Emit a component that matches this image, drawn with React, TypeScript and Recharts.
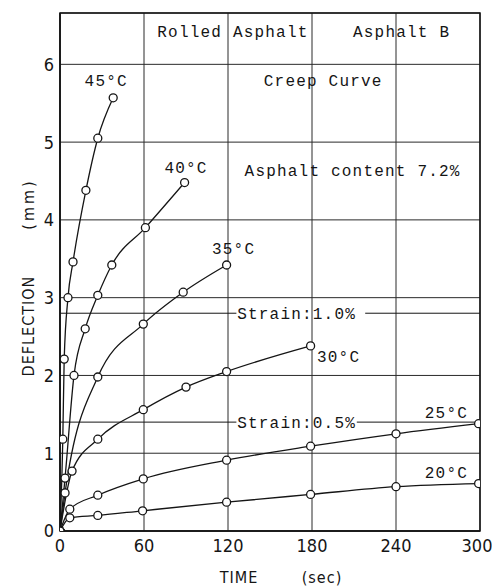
import {
  LineChart,
  Line,
  XAxis,
  YAxis,
  CartesianGrid,
  ReferenceLine,
  ReferenceArea,
  ReferenceDot,
} from "recharts";

const W = 492;
const H = 587;
const Y_MAX = 6.66;

const xTicks = [0, 60, 120, 180, 240, 300];
const yTicks = [0, 1, 2, 3, 4, 5, 6];

// creep curves, time (sec) vs deflection (mm)
const time45 = [0, 2, 3, 5.7, 9.3, 18.5, 27, 38];
const defl45 = [0, 1.18, 2.21, 3.0, 3.46, 4.38, 5.05, 5.57];
const time40 = [0, 3.6, 10, 18, 27, 37, 61, 89];
const defl40 = [0, 0.68, 2.0, 2.6, 3.03, 3.42, 3.9, 4.48];
const time35 = [0, 3.6, 27, 59.5, 88, 119];
const defl35 = [0, 0.49, 1.98, 2.66, 3.07, 3.42];
const time30 = [0, 8.6, 27, 59.5, 90, 119, 179];
const defl30 = [0, 0.77, 1.18, 1.56, 1.85, 2.05, 2.38];
const time25 = [0, 7, 27, 59.5, 119, 179, 240, 299];
const defl25 = [0, 0.28, 0.46, 0.67, 0.91, 1.09, 1.25, 1.38];
const time20 = [0, 7, 27, 59, 119, 179, 240, 299];
const defl20 = [0, 0.17, 0.2, 0.26, 0.37, 0.47, 0.57, 0.61];

const strainLevels = [2.8, 1.4];

const notes = [
  { text: "Rolled Asphalt", x: 123.5, y: 6.42 },
  { text: "Asphalt B", x: 244, y: 6.42 },
  { text: "Creep Curve", x: 188, y: 5.8 },
  { text: "Asphalt content 7.2%", x: 209, y: 4.64 },
  { text: "Strain:1.0%", x: 169, y: 2.8 },
  { text: "Strain:0.5%", x: 169, y: 1.4 },
  { text: "45°C", x: 33, y: 5.8 },
  { text: "40°C", x: 90, y: 4.68 },
  { text: "35°C", x: 124, y: 3.64 },
  { text: "30°C", x: 199, y: 2.24 },
  { text: "25°C", x: 276, y: 1.53 },
  { text: "20°C", x: 276, y: 0.76 },
];

const toPoints = (t: number[], d: number[]) => t.map((v, i) => ({ t: v, d: d[i] }));

const series = [
  toPoints(time45, defl45),
  toPoints(time40, defl40),
  toPoints(time35, defl35),
  toPoints(time30, defl30),
  toPoints(time25, defl25),
  toPoints(time20, defl20),
];

const INK = "#151515";
const MONO = "'Liberation Mono', 'DejaVu Sans Mono', monospace";
const SANS = "'DejaVu Sans Condensed', 'DejaVu Sans', sans-serif";

const XTick = (props: any) => {
  const { x, y, payload } = props;
  const dx = payload.value === 300 ? -3 : 0;
  return (
    <text
      x={x + dx}
      y={y + 15}
      textAnchor="middle"
      fill={INK}
      fontFamily={SANS}
      fontStretch="condensed"
      fontSize={18}
    >
      {payload.value}
    </text>
  );
};

const XTitle = (props: any) => {
  const vb = props.viewBox || { x: 60, y: 531, width: 420, height: 56 };
  const y = vb.y + 52;
  return (
    <g fill={INK} fontFamily={SANS} fontStretch="condensed" fontSize={16} letterSpacing={1}>
      <text x={vb.x + 179} y={y} textAnchor="middle">TIME</text>
      <text x={vb.x + 262} y={y} textAnchor="middle">(sec)</text>
    </g>
  );
};

const YTitle = (props: any) => {
  const vb = props.viewBox || { x: 0, y: 13, width: 60, height: 518 };
  const cx = vb.x + 34;
  const a = vb.y + 313;
  const b = vb.y + 191;
  return (
    <g fill={INK} fontFamily={SANS} fontStretch="condensed" fontSize={16} letterSpacing={1}>
      <text x={cx} y={a} textAnchor="middle" transform={`rotate(-90 ${cx} ${a})`}>
        DEFLECTION
      </text>
      <text x={cx} y={b} textAnchor="middle" transform={`rotate(-90 ${cx} ${b})`} letterSpacing={3}>
        (mm)
      </text>
    </g>
  );
};

export default function App() {
  return (
    <div style={{ position: "absolute", left: 0, top: 0, width: W, height: H, background: "#fff" }}>
      <LineChart width={W} height={H} margin={{ top: 13, right: 12, bottom: 0, left: 0 }}>
        <CartesianGrid stroke="#2a2a2a" strokeWidth={1} fill="none" />
        <XAxis
          type="number"
          dataKey="t"
          domain={[0, 300]}
          ticks={xTicks}
          height={56}
          tickSize={0}
          tickMargin={6}
          axisLine={{ stroke: INK, strokeWidth: 1.5 }}
          tick={<XTick />}
          label={<XTitle />}
          allowDataOverflow
        />
        <YAxis
          type="number"
          domain={[0, Y_MAX]}
          ticks={yTicks}
          width={60}
          tickSize={0}
          tickMargin={6}
          axisLine={{ stroke: INK, strokeWidth: 1.5 }}
          tick={{ fill: INK, fontSize: 18, fontFamily: SANS, fontStretch: "condensed" } as any}
          label={<YTitle />}
          allowDataOverflow
        />
        <ReferenceArea
          x1={0}
          x2={300}
          y1={0}
          y2={Y_MAX}
          fill="none"
          fillOpacity={0}
          stroke={INK}
          strokeWidth={1.5}
        />
        {strainLevels.map((s) => (
          <ReferenceLine
            key={`a${s}`}
            segment={[{ x: 0, y: s }, { x: 126, y: s }]}
            stroke={INK}
            strokeWidth={1}
          />
        ))}
        {strainLevels.map((s) => (
          <ReferenceLine
            key={`b${s}`}
            segment={[{ x: s > 2 ? 218 : 212, y: s }, { x: 300, y: s }]}
            stroke={INK}
            strokeWidth={1}
          />
        ))}
        {series.map((pts, i) => (
          <Line
            key={i}
            data={pts}
            dataKey="d"
            type="monotone"
            stroke={INK}
            strokeWidth={1.3}
            dot={{ r: 4, stroke: INK, strokeWidth: 1.3, fill: "#fff" }}
            isAnimationActive={false}
          />
        ))}
        {notes.map((n) => (
          <ReferenceDot
            key={n.text}
            x={n.x}
            y={n.y}
            r={0}
            fill="none"
            stroke="none"
            label={
              {
                value: n.text,
                position: "center",
                fill: INK,
                fontSize: 16,
                fontFamily: MONO,
                letterSpacing: 1.2,
              } as any
            }
          />
        ))}
      </LineChart>
    </div>
  );
}
